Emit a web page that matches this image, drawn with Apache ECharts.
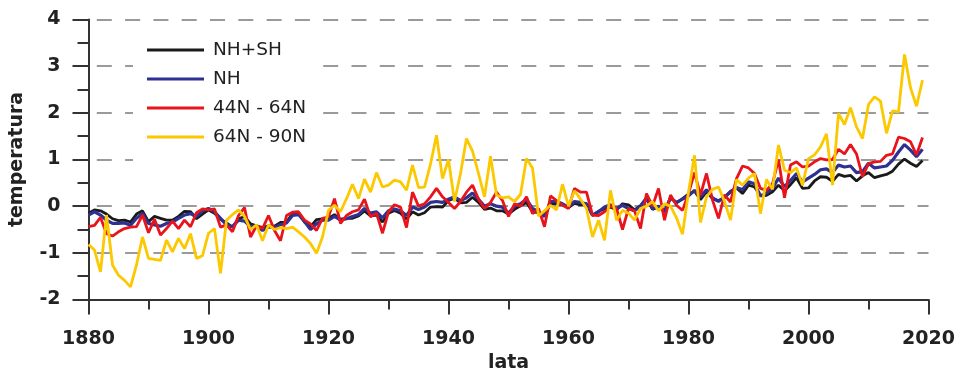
<!DOCTYPE html>
<html>
<head>
<meta charset="utf-8">
<script src="https://cdn.jsdelivr.net/npm/echarts@6/dist/echarts.min.js"></script>
<style>
  html, body { margin: 0; padding: 0; background: #fff; }
  #main { width: 960px; height: 372px; }
</style>
</head>
<body>
<div id="main"></div>
<script>
var chartDom = document.getElementById("main");
var myChart = echarts.init(chartDom);
var option;

// anomalies, one value per year, 1880..2019
const startYear = 1880;
const seriesNames = ["NH+SH", "NH", "44N - 64N", "64N - 90N"];
const colors = ["#1a1a1a", "#2e3192", "#e8141c", "#fcc800"];

const nhsh = [
  -0.15, -0.08, -0.10, -0.17, -0.27, -0.31, -0.30, -0.34, -0.17, -0.10,
  -0.33, -0.22, -0.26, -0.30, -0.30, -0.22, -0.11, -0.12, -0.27, -0.17,
  -0.08, -0.15, -0.28, -0.36, -0.45, -0.27, -0.22, -0.38, -0.42, -0.46,
  -0.42, -0.43, -0.35, -0.34, -0.16, -0.14, -0.34, -0.44, -0.29, -0.27,
  -0.26, -0.18, -0.28, -0.26, -0.26, -0.21, -0.10, -0.21, -0.19, -0.34,
  -0.15, -0.09, -0.15, -0.28, -0.12, -0.19, -0.14, -0.02, -0.01, -0.02,
  0.12, 0.17, 0.07, 0.08, 0.19, 0.08, -0.07, -0.04, -0.10, -0.10,
  -0.17, -0.07, 0.01, 0.08, -0.12, -0.14, -0.19, 0.05, 0.06, 0.03,
  -0.03, 0.06, 0.03, 0.05, -0.20, -0.11, -0.06, -0.02, -0.08, 0.05,
  0.03, -0.08, 0.01, 0.16, -0.07, -0.01, -0.10, 0.18, 0.07, 0.16,
  0.26, 0.32, 0.14, 0.31, 0.16, 0.12, 0.18, 0.32, 0.39, 0.27,
  0.45, 0.41, 0.22, 0.23, 0.31, 0.45, 0.33, 0.46, 0.61, 0.38,
  0.39, 0.54, 0.63, 0.62, 0.53, 0.68, 0.64, 0.66, 0.54, 0.65,
  0.72, 0.61, 0.65, 0.68, 0.75, 0.90, 1.01, 0.92, 0.85, 0.98
];
const nh = [
  -0.19, -0.12, -0.19, -0.30, -0.37, -0.37, -0.36, -0.41, -0.26, -0.16,
  -0.37, -0.40, -0.43, -0.37, -0.34, -0.26, -0.19, -0.16, -0.22, -0.10,
  -0.05, -0.12, -0.26, -0.40, -0.44, -0.30, -0.32, -0.44, -0.42, -0.52,
  -0.45, -0.45, -0.40, -0.36, -0.20, -0.18, -0.33, -0.50, -0.38, -0.30,
  -0.30, -0.22, -0.30, -0.27, -0.22, -0.18, -0.05, -0.15, -0.12, -0.25,
  -0.10, -0.06, -0.10, -0.20, -0.02, -0.07, -0.02, 0.08, 0.10, 0.08,
  0.15, 0.20, 0.12, 0.18, 0.28, 0.15, 0.00, 0.05, 0.00, -0.02,
  -0.15, 0.00, 0.05, 0.15, -0.05, -0.12, -0.22, 0.10, 0.10, 0.05,
  -0.02, 0.10, 0.08, 0.05, -0.19, -0.12, -0.02, 0.03, -0.05, 0.02,
  -0.05, -0.10, 0.00, 0.18, -0.05, 0.00, -0.12, 0.18, 0.08, 0.15,
  0.22, 0.34, 0.20, 0.35, 0.18, 0.10, 0.20, 0.30, 0.40, 0.35,
  0.52, 0.48, 0.22, 0.28, 0.38, 0.60, 0.42, 0.55, 0.70, 0.52,
  0.60, 0.68, 0.78, 0.80, 0.72, 0.88, 0.84, 0.86, 0.72, 0.74,
  0.92, 0.82, 0.84, 0.86, 0.98, 1.16, 1.32, 1.20, 1.06, 1.22
];
const band44_64 = [
  -0.44, -0.41, -0.24, -0.59, -0.64, -0.55, -0.48, -0.45, -0.44, -0.19,
  -0.57, -0.28, -0.62, -0.48, -0.32, -0.48, -0.30, -0.44, -0.14, -0.06,
  -0.08, -0.06, -0.45, -0.40, -0.55, -0.20, -0.03, -0.66, -0.42, -0.48,
  -0.20, -0.52, -0.74, -0.20, -0.13, -0.12, -0.30, -0.38, -0.52, -0.26,
  -0.23, 0.16, -0.37, -0.20, -0.12, -0.08, 0.15, -0.23, -0.15, -0.58,
  -0.12, 0.03, -0.02, -0.46, 0.30, 0.00, 0.05, 0.20, 0.38, 0.20,
  0.08, -0.05, 0.10, 0.30, 0.45, 0.15, -0.05, 0.08, 0.30, 0.12,
  -0.22, 0.05, 0.00, 0.20, -0.16, -0.05, -0.44, 0.22, 0.12, 0.02,
  -0.05, 0.38, 0.30, 0.30, -0.19, -0.20, -0.12, 0.00, -0.05, -0.50,
  -0.05, -0.10, -0.48, 0.27, 0.00, 0.38, -0.30, 0.24, 0.02, -0.09,
  0.27, 0.72, 0.24, 0.70, 0.13, -0.26, 0.24, 0.09, 0.59, 0.86,
  0.82, 0.70, 0.38, 0.34, 0.48, 1.00, 0.18, 0.88, 0.95, 0.84,
  0.86, 0.95, 1.02, 0.99, 1.00, 1.22, 1.12, 1.32, 1.12, 0.63,
  0.91, 0.95, 0.96, 1.09, 1.12, 1.48, 1.45, 1.38, 1.10, 1.47
];
const band64_90 = [
  -0.82, -0.94, -1.41, -0.19, -1.26, -1.48, -1.59, -1.73, -1.26, -0.66,
  -1.12, -1.14, -1.16, -0.73, -0.98, -0.69, -0.91, -0.59, -1.12, -1.06,
  -0.58, -0.48, -1.44, -0.30, -0.18, -0.08, -0.22, -0.50, -0.40, -0.74,
  -0.40, -0.50, -0.46, -0.48, -0.45, -0.55, -0.66, -0.80, -1.01, -0.66,
  -0.09, 0.02, -0.12, 0.16, 0.47, 0.16, 0.58, 0.30, 0.72, 0.41,
  0.45, 0.56, 0.52, 0.34, 0.88, 0.40, 0.41, 0.90, 1.52, 0.59,
  1.00, 0.10, 0.70, 1.45, 1.18, 0.70, 0.20, 1.07, 0.24, 0.18,
  0.20, 0.10, 0.25, 1.02, 0.82, -0.21, -0.10, 0.02, -0.08, 0.47,
  0.00, 0.33, 0.15, -0.05, -0.66, -0.30, -0.73, 0.34, -0.30, -0.09,
  -0.15, -0.30, -0.05, 0.00, 0.10, -0.10, 0.05, 0.00, -0.25, -0.60,
  0.30, 1.09, -0.35, 0.20, 0.36, 0.41, 0.10, -0.30, 0.57, 0.45,
  0.60, 0.70, -0.16, 0.57, 0.36, 1.31, 0.77, 0.72, 0.82, 0.45,
  1.02, 1.10, 1.27, 1.55, 0.45, 1.99, 1.75, 2.11, 1.70, 1.45,
  2.18, 2.34, 2.25, 1.56, 2.04, 2.02, 3.25, 2.54, 2.14, 2.70
];

const allValues = [nhsh, nh, band44_64, band64_90];
const lineWidths = [2.8, 3.2, 2.8, 2.8];

const labelFont = {
  fontFamily: "DejaVu Sans",
  fontWeight: "bold",
  fontSize: 19,
  color: "#222",
};

const series = seriesNames.map((name, i) => ({
  name,
  type: "line",
  showSymbol: false,
  symbol: "none",
  color: colors[i],
  lineStyle: { width: lineWidths[i], color: colors[i] },
  data: allValues[i].map((v, k) => [startYear + k, v]),
  z: 2 + i,
}));

option = {
  animation: false,
  color: colors,
  grid: {
    left: 88.5,
    right: 31.5,
    top: 19.5,
    bottom: 72.5,
    outerBoundsMode: "none",
    containLabel: false,
  },
  legend: {
    orient: "vertical",
    left: 133,
    top: 32,
    padding: [8, 14, 16, 14],
    backgroundColor: "#fff",
    icon: "rect",
    itemWidth: 57,
    itemHeight: 3,
    itemGap: 9,
    selectedMode: false,
    textStyle: {
      fontFamily: "DejaVu Sans",
      fontSize: 18.5,
      color: "#222",
      lineHeight: 20,
      padding: [0, 0, 0, 4],
    },
    data: seriesNames,
  },
  xAxis: {
    type: "value",
    min: 1880,
    max: 2020,
    interval: 20,
    name: "lata",
    nameLocation: "middle",
    nameGap: 52,
    nameTextStyle: labelFont,
    axisLine: { show: true, onZero: false, lineStyle: { color: "#333", width: 2 } },
    axisTick: { show: true, length: 15, lineStyle: { color: "#333", width: 2 } },
    minorTick: { show: true, splitNumber: 2, length: 10, lineStyle: { color: "#333", width: 2 } },
    axisLabel: Object.assign({ margin: 30, formatter: (v) => String(v) }, labelFont),
    splitLine: { show: false },
  },
  yAxis: {
    type: "value",
    min: -2,
    max: 4,
    interval: 1,
    name: "temperatura",
    nameLocation: "middle",
    nameGap: 62,
    nameTextStyle: labelFont,
    axisLine: { show: true, lineStyle: { color: "#333", width: 2 } },
    axisTick: { show: true, length: 16, lineStyle: { color: "#333", width: 2 } },
    minorTick: { show: true, splitNumber: 2, length: 11, lineStyle: { color: "#333", width: 2 } },
    axisLabel: Object.assign({ margin: 28 }, labelFont),
    splitLine: {
      show: true,
      lineStyle: { color: "#9a9a9a", width: 2, type: [15, 13.3], dashOffset: 20 },
    },
  },
  series,
};

option && myChart.setOption(option);
</script>
</body>
</html>
